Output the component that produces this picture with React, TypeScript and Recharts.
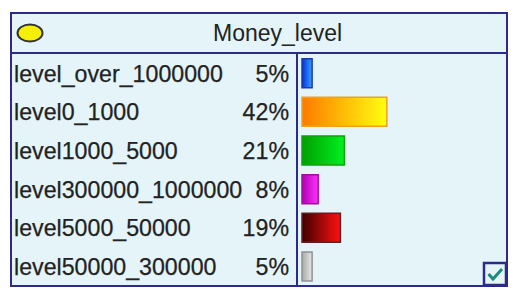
import React from "react";
import { BarChart, Bar, XAxis, YAxis, Cell } from "recharts";

const title = "Money_level";
const states = [
  "level_over_1000000",
  "level0_1000",
  "level1000_5000",
  "level300000_1000000",
  "level5000_50000",
  "level50000_300000",
];
const percents = [5, 42, 21, 8, 19, 5];
const gradientStops: [string, string, string][] = [
  ["#0030e0", "#3aa0ff", "#1a3ab0"],
  ["#ff7a00", "#ffff10", "#f0a020"],
  ["#00a000", "#00f020", "#10a010"],
  ["#b000b0", "#ff30ff", "#a010a0"],
  ["#400000", "#ff1010", "#602020"],
  ["#a8a8a8", "#e8e8e8", "#909090"],
];

const data = states.map((s, i) => ({ name: s, value: percents[i] }));

const FONT = "'Liberation Sans', Arial, sans-serif";
const BORDER = "#2b2b8c";
const BG = "#e4f4f8";

const Tick = (props: any) => {
  const { y, payload } = props;
  const idx = states.indexOf(payload.value);
  return (
    <g>
      <text x={14} y={y} dy="0.36em" fontSize={23.2} fontFamily={FONT} fill="#222" stroke="#222" strokeWidth={0.25} textAnchor="start">
        {payload.value}
      </text>
      <text x={289} y={y} dy="0.36em" fontSize={23.2} fontFamily={FONT} fill="#222" stroke="#222" strokeWidth={0.25} textAnchor="end">
        {percents[idx]}%
      </text>
    </g>
  );
};

export default function App() {
  return (
    <div style={{ position: "absolute", left: 0, top: 0, width: 516, height: 302, background: "#fff" }}>
      <div
        style={{
          position: "absolute",
          left: 10,
          top: 12,
          width: 494,
          height: 271,
          border: `2px solid ${BORDER}`,
          background: BG,
        }}
      />
      <div style={{ position: "absolute", left: 10, top: 52, width: 498, height: 2, background: BORDER }} />
      <div style={{ position: "absolute", left: 296, top: 53, width: 2, height: 233, background: BORDER }} />
      <svg style={{ position: "absolute", left: 0, top: 0 }} width={60} height={60}>
        <ellipse cx={30} cy={33} rx={12.5} ry={8.5} fill="#f4f000" stroke="#333" strokeWidth={2} />
      </svg>
      <div
        style={{
          position: "absolute",
          left: 213,
          top: 18,
          fontFamily: FONT,
          fontSize: 23,
          color: "#222",
          lineHeight: "30px",
        }}
      >
        {title}
      </div>
      <div style={{ position: "absolute", left: 0, top: 0 }}>
        <BarChart
          width={516}
          height={302}
          data={data}
          layout="vertical"
          margin={{ top: 54, right: 12, bottom: 16, left: 10 }}
          barCategoryGap="12%"
        >
          <defs>
            {gradientStops.map((g, i) => (
              <linearGradient key={i} id={`grad${i}`} x1="0" y1="0" x2="1" y2="0">
                <stop offset="0%" stopColor={g[0]} />
                <stop offset="100%" stopColor={g[1]} />
              </linearGradient>
            ))}
          </defs>
          <XAxis type="number" domain={[0, 100]} hide />
          <YAxis
            type="category"
            dataKey="name"
            width={292}
            axisLine={false}
            tickLine={false}
            tick={<Tick />}
            interval={0}
          />
          <Bar dataKey="value" isAnimationActive={false} strokeWidth={1.5}>
            {data.map((d, i) => (
              <Cell key={d.name} fill={`url(#grad${i})`} stroke={gradientStops[i][2]} />
            ))}
          </Bar>
        </BarChart>
      </div>
      <svg style={{ position: "absolute", left: 0, top: 0, pointerEvents: "none" }} width={516} height={302}>
        <rect x={484} y={263} width={22} height={22} fill={BG} stroke={BORDER} strokeWidth={2.5} />
        <path d="M488.5 274 L493 279 L502 269" fill="none" stroke="#1a8a80" strokeWidth={3} />
      </svg>
    </div>
  );
}
